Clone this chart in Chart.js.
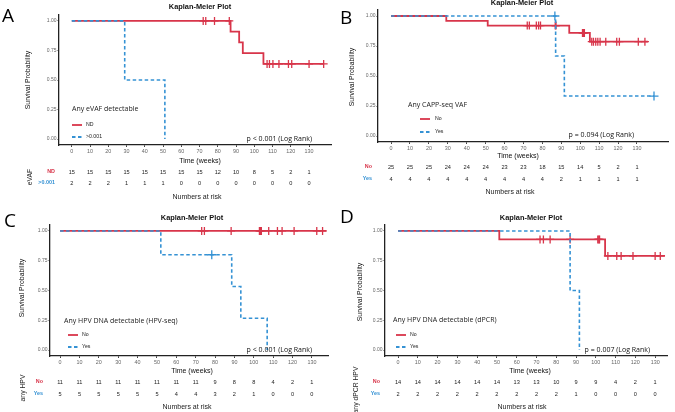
<!DOCTYPE html>
<html>
<head>
<meta charset="utf-8">
<script src="https://cdn.jsdelivr.net/npm/chart.js@4.4.1/dist/chart.umd.min.js"></script>
<style>
  html, body { margin: 0; padding: 0; background: #fff; }
  #wrap { position: relative; width: 675px; height: 412px; overflow: hidden; }
  #wrap canvas { position: absolute; }
</style>
</head>
<body>
<div id="wrap"></div>
<script>
const RED = '#d8354a'
const BLUE = '#3592d4'

const timeTicks = [0, 10, 20, 30, 40, 50, 60, 70, 80, 90, 100, 110, 120, 130]
const survTicks = [0, 0.25, 0.5, 0.75, 1]

// A - any eVAF detectable
const aNdTimes = [0, 87, 91.7, 93.7, 105, 138]
const aNdSurv = [1, 0.909, 0.818, 0.727, 0.636, 0.636]
const aNdCensor = [72, 73.4, 78.2, 86.3, 107, 108.3, 110.2, 113.5, 118.7, 120.5, 130, 138]
const aPosTimes = [0, 29, 51]
const aPosSurv = [1, 0.5, 0]
const aPosCensor = []
const aNdRisk = [15, 15, 15, 15, 15, 15, 15, 15, 12, 10, 8, 5, 2, 1]
const aPosRisk = [2, 2, 2, 1, 1, 1, 0, 0, 0, 0, 0, 0, 0, 0]

// B - any CAPP-seq VAF
const bNoTimes = [0, 29.2, 51.1, 94.2, 105.1, 135.8]
const bNoSurv = [1, 0.96, 0.92, 0.859, 0.786, 0.786]
const bNoCensor = [72, 73.1, 76.8, 78, 79, 86.8, 87.2, 101.2, 101.7, 102.2, 106.1, 107, 108.2, 109.3, 110.5, 113.5, 119.3, 120.7, 130.7, 134.2]
const bYesTimes = [0, 87, 91.6, 139]
const bYesSurv = [1, 0.667, 0.333, 0.333]
const bYesCensor = [86.6, 139]
const bNoRisk = [25, 25, 25, 24, 24, 24, 23, 23, 18, 15, 14, 5, 2, 1]
const bYesRisk = [4, 4, 4, 4, 4, 4, 4, 4, 4, 2, 1, 1, 1, 1]

// C - any HPV DNA detectable (HPV-seq)
const cNoTimes = [0, 137.5]
const cNoSurv = [1, 1]
const cNoCensor = [73.1, 74.5, 88.3, 102.9, 103.4, 103.9, 107.7, 112.2, 114.6, 120.8, 132.5, 135.5]
const cYesTimes = [0, 52, 88.6, 93.3, 106.9]
const cYesSurv = [1, 0.8, 0.533, 0.267, 0]
const cYesCensor = [78.3]
const cNoRisk = [11, 11, 11, 11, 11, 11, 11, 11, 9, 8, 8, 4, 2, 1]
const cYesRisk = [5, 5, 5, 5, 5, 5, 4, 4, 3, 2, 1, 0, 0, 0]

// D - any HPV DNA detectable (dPCR)
const dNoTimes = [0, 51.2, 104.7, 135]
const dNoSurv = [1, 0.929, 0.79, 0.79]
const dNoCensor = [71.8, 73.5, 76.9, 87, 101, 101.5, 101.9, 106.1, 110.6, 112.8, 118.8, 130, 132.6]
const dYesTimes = [0, 87, 91.7]
const dYesSurv = [1, 0.5, 0]
const dYesCensor = []
const dNoRisk = [14, 14, 14, 14, 14, 14, 13, 13, 10, 9, 9, 4, 2, 1]
const dYesRisk = [2, 2, 2, 2, 2, 2, 2, 2, 2, 1, 0, 0, 0, 0]

const wrap = document.getElementById('wrap')

const survAt = function (times, surv, t) {
  let s = surv[0]
  for (let i = 0; i < times.length; i++) {
    if (times[i] <= t) s = surv[i]
  }
  return s
}

const curve = function (times, surv) {
  return times.map((t, i) => ({ x: t, y: surv[i] }))
}

const censorPts = function (times, surv, cens) {
  return cens.map(t => ({ x: t, y: survAt(times, surv, t) }))
}

const panels = [
  {
    letter: 'A', left: 0, top: 0, w: 337, h: 205,
    area: [59, 15, 336, 145], xMin: -7, xMax: 142.4,
    g1: { name: 'ND', times: aNdTimes, surv: aNdSurv, cens: aNdCensor, risk: aNdRisk },
    g2: { name: '>0.001', times: aPosTimes, surv: aPosSurv, cens: aPosCensor, risk: aPosRisk },
    legendTitle: 'Any eVAF detectable', pval: 'p < 0.001 (Log Rank)', riskTitle: 'eVAF',
    pos: { letter: [2, 22], title: [200, 7], yTitle: [28, 80], xTitle: [200, 161], rows: [172, 183], rowRight: 55,
      riskTitle: [30, 177], nar: [197, 197], leg: [72, 109, 125, 137, 86], p: [312, 139] }
  },
  {
    letter: 'B', left: 337, top: 0, w: 338, h: 205,
    area: [41, 10, 331, 142], xMin: -6.9, xMax: 146.4,
    g1: { name: 'No', times: bNoTimes, surv: bNoSurv, cens: bNoCensor, risk: bNoRisk },
    g2: { name: 'Yes', times: bYesTimes, surv: bYesSurv, cens: bYesCensor, risk: bYesRisk },
    legendTitle: 'Any CAPP-seq VAF', pval: 'p = 0.094 (Log Rank)', riskTitle: '',
    pos: { letter: [3, 24], title: [185, 3], yTitle: [15, 77], xTitle: [181, 156], rows: [167, 179], rowRight: 35,
      riskTitle: [0, 0], nar: [173, 192], leg: [71, 105, 119, 132, 98], legSample: 83, p: [297, 135] }
  },
  {
    letter: 'C', left: 0, top: 205, w: 337, h: 207,
    area: [50, 20, 328, 151], xMin: -5.2, xMax: 138.3,
    g1: { name: 'No', times: cNoTimes, surv: cNoSurv, cens: cNoCensor, risk: cNoRisk },
    g2: { name: 'Yes', times: cYesTimes, surv: cYesSurv, cens: cYesCensor, risk: cYesRisk },
    legendTitle: 'Any HPV DNA detectable (HPV-seq)', pval: 'p < 0.001 (Log Rank)', riskTitle: 'any HPV',
    pos: { letter: [4, 22], title: [192, 13], yTitle: [22, 83], xTitle: [192, 166], rows: [177, 189], rowRight: 43,
      riskTitle: [23, 183], nar: [187, 202], leg: [64, 116, 130, 142, 82], legSample: 68, p: [312, 145] }
  },
  {
    letter: 'D', left: 337, top: 205, w: 338, h: 207,
    area: [48, 20, 330, 151], xMin: -6.6, xMax: 136,
    g1: { name: 'No', times: dNoTimes, surv: dNoSurv, cens: dNoCensor, risk: dNoRisk },
    g2: { name: 'Yes', times: dYesTimes, surv: dYesSurv, cens: dYesCensor, risk: dYesRisk },
    legendTitle: 'Any HPV DNA detectable (dPCR)', pval: 'p = 0.007 (Log Rank)', riskTitle: 'any dPCR HPV',
    pos: { letter: [3, 18], title: [194, 13], yTitle: [23, 87], xTitle: [193, 166], rows: [177, 189], rowRight: 43,
      riskTitle: [19, 185], nar: [185, 202], leg: [56, 115, 130, 142, 73], legSample: 59, p: [313, 145] }
  }
]

const SANS = '"Liberation Sans", Arial, sans-serif'
const SEGOE = '"Open Sans", "Noto Sans", sans-serif'

const makeDecor = function (p) {
  return {
    id: 'decor' + p.letter,
    afterDraw(chart) {
      const ctx = chart.ctx
      const xs = chart.scales.x
      const q = p.pos
      ctx.save()

      // panel letter
      ctx.fillStyle = '#000'
      ctx.textAlign = 'left'
      ctx.textBaseline = 'alphabetic'
      ctx.font = '19px ' + SEGOE
      ctx.fillText(p.letter, q.letter[0], q.letter[1])
      ctx.textBaseline = 'middle'

      // title
      ctx.fillStyle = '#111'
      ctx.textAlign = 'center'
      ctx.font = 'bold 7.4px ' + SANS
      ctx.fillText('Kaplan-Meier Plot', q.title[0], q.title[1])

      // axis titles
      ctx.font = '7px ' + SANS
      ctx.fillText('Time (weeks)', q.xTitle[0], q.xTitle[1])
      ctx.save()
      ctx.translate(q.yTitle[0], q.yTitle[1])
      ctx.rotate(-Math.PI / 2)
      ctx.font = '6.9px ' + SANS
      ctx.fillText('Survival Probability', 0, 0)
      ctx.restore()

      // legend inside the plot
      ctx.textAlign = 'left'
      ctx.fillStyle = '#222'
      ctx.font = '7px ' + SEGOE
      ctx.fillText(p.legendTitle, q.leg[0], q.leg[1])
      const sx = q.legSample || q.leg[0]
      ctx.lineWidth = 1.8
      ctx.strokeStyle = RED
      ctx.setLineDash([])
      ctx.beginPath(); ctx.moveTo(sx, q.leg[2]); ctx.lineTo(sx + 10, q.leg[2]); ctx.stroke()
      ctx.strokeStyle = BLUE
      ctx.setLineDash([3.5, 2.5])
      ctx.beginPath(); ctx.moveTo(sx, q.leg[3]); ctx.lineTo(sx + 10, q.leg[3]); ctx.stroke()
      ctx.setLineDash([])
      ctx.font = '5.2px ' + SANS
      ctx.fillText(p.g1.name, q.leg[4], q.leg[2])
      ctx.fillText(p.g2.name, q.leg[4], q.leg[3])

      // p value
      ctx.textAlign = 'right'
      ctx.font = '7px ' + SEGOE
      ctx.fillStyle = '#111'
      ctx.fillText(p.pval, q.p[0], q.p[1])

      // numbers at risk
      ctx.font = 'bold 5.4px ' + SANS
      ctx.fillStyle = RED
      ctx.fillText(p.g1.name, q.rowRight, q.rows[0])
      ctx.fillStyle = BLUE
      ctx.fillText(p.g2.name, q.rowRight, q.rows[1])
      ctx.textAlign = 'center'
      ctx.font = '5.6px ' + SANS
      ctx.fillStyle = '#222'
      timeTicks.forEach((t, i) => {
        const x = xs.getPixelForValue(t)
        ctx.fillText(String(p.g1.risk[i]), x, q.rows[0])
        ctx.fillText(String(p.g2.risk[i]), x, q.rows[1])
      })
      ctx.font = '7px ' + SANS
      ctx.fillText('Numbers at risk', q.nar[0], q.nar[1])
      if (p.riskTitle) {
        ctx.save()
        ctx.translate(q.riskTitle[0], q.riskTitle[1])
        ctx.rotate(-Math.PI / 2)
        ctx.font = '6.8px ' + SANS
        ctx.fillText(p.riskTitle, 0, 0)
        ctx.restore()
      }
      ctx.restore()
    }
  }
}

const makePanel = function (p) {
  const canvas = document.createElement('canvas')
  canvas.width = p.w
  canvas.height = p.h
  canvas.style.left = p.left + 'px'
  canvas.style.top = p.top + 'px'
  canvas.style.width = p.w + 'px'
  canvas.style.height = p.h + 'px'
  wrap.appendChild(canvas)

  const yW = 24
  const xH = 12
  const [aL, aT, aR, aB] = p.area

  return new Chart(canvas.getContext('2d'), {
    type: 'line',
    data: {
      datasets: [
        {
          label: p.g2.name, order: 1,
          data: curve(p.g2.times, p.g2.surv),
          borderColor: BLUE, borderWidth: 1.6, borderDash: [3.5, 2.5],
          stepped: true, pointRadius: 0, fill: false
        },
        {
          label: p.g2.name + ' censored', order: 1,
          data: censorPts(p.g2.times, p.g2.surv, p.g2.cens),
          showLine: false, pointStyle: 'cross', pointRadius: 4.5,
          pointBorderColor: BLUE, pointBorderWidth: 1.3
        },
        {
          label: p.g1.name, order: 2,
          data: curve(p.g1.times, p.g1.surv),
          borderColor: RED, borderWidth: 1.8,
          stepped: true, pointRadius: 0, fill: false
        },
        {
          label: p.g1.name + ' censored', order: 2,
          data: censorPts(p.g1.times, p.g1.surv, p.g1.cens),
          showLine: false, pointStyle: 'cross', pointRadius: 4,
          pointBorderColor: RED, pointBorderWidth: 1.3
        }
      ]
    },
    options: {
      responsive: false,
      animation: false,
      devicePixelRatio: 1,
      layout: {
        padding: { left: aL - yW, top: aT, right: p.w - aR, bottom: p.h - aB - xH }
      },
      plugins: {
        legend: { display: false },
        tooltip: { enabled: false },
        title: { display: false }
      },
      scales: {
        x: {
          type: 'linear',
          min: p.xMin,
          max: p.xMax,
          afterBuildTicks: s => { s.ticks = timeTicks.map(v => ({ value: v })) },
          afterFit: s => { s.height = xH; s.paddingLeft = 0; s.paddingRight = 0 },
          ticks: { font: { size: 5.4, family: SANS }, color: '#666', padding: 1, maxRotation: 0, autoSkip: false },
          grid: { drawOnChartArea: false, drawTicks: true, tickLength: 2, color: '#444' },
          border: { display: true, color: '#222', width: 1.3 }
        },
        y: {
          min: -0.05,
          max: 1.05,
          afterBuildTicks: s => { s.ticks = survTicks.map(v => ({ value: v })) },
          afterFit: s => { s.width = yW; s.paddingTop = 0; s.paddingBottom = 0 },
          ticks: { font: { size: 5, family: SANS }, color: '#666', padding: 1, callback: v => Number(v).toFixed(2) },
          grid: { drawOnChartArea: false, drawTicks: true, tickLength: 1.5, color: '#444' },
          border: { display: true, color: '#222', width: 1.3 }
        }
      }
    },
    plugins: [makeDecor(p)]
  })
}

panels.forEach(p => makePanel(p))
</script>
</body>
</html>
